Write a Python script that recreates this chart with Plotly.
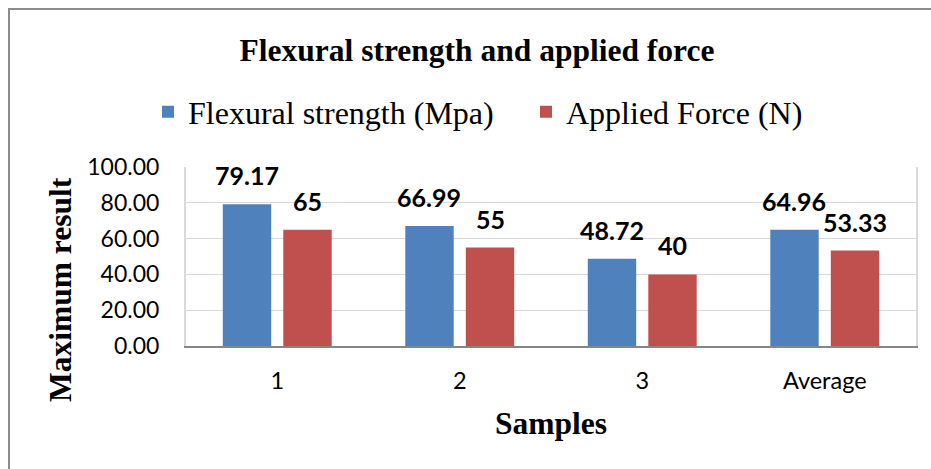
import plotly.graph_objects as go

# Chart data
samples = ["1", "2", "3", "Average"]
flexural_strength = [79.17, 66.99, 48.72, 64.96]
applied_force = [65, 55, 40, 53.33]
flexural_labels = ["79.17", "66.99", "48.72", "64.96"]
force_labels = ["65", "55", "40", "53.33"]
y_ticks = [0, 20, 40, 60, 80, 100]

BLUE = "#4F81BD"
RED = "#C0504D"
W, H = 931, 469
ML, MR, MT, MB = 186, 15, 167, 123
PW, PH = W - ML - MR, H - MT - MB

def px_x(p):
    return (p - ML) / PW

def px_y(p):
    return (H - MB - p) / PH

fig = go.Figure()
fig.add_trace(go.Bar(name="Flexural strength (Mpa)", x=samples, y=flexural_strength,
                     marker=dict(color=BLUE, line=dict(width=0))))
fig.add_trace(go.Bar(name="Applied Force (N)", x=samples, y=applied_force,
                     marker=dict(color=RED, line=dict(width=0))))

# value labels floating above each bar
label_font = dict(family="Lato", size=25, color="#000000")
off = 0.166
annotations = []
for i, (v, t) in enumerate(zip(flexural_strength, flexural_labels)):
    annotations.append(dict(x=i - off, y=v, xref="x", yref="y", text="<b>%s</b>" % t,
                            showarrow=False, yanchor="bottom", yshift=12, font=label_font))
for i, (v, t) in enumerate(zip(applied_force, force_labels)):
    annotations.append(dict(x=i + off, y=v, xref="x", yref="y", text="<b>%s</b>" % t,
                            showarrow=False, yanchor="bottom", yshift=12, font=label_font))

serif_bold = dict(family="Liberation Serif", size=31.5, color="#000000")
annotations.append(dict(x=px_x(60), y=px_y(289), xref="paper", yref="paper",
                        text="<b>Maximum result</b>", textangle=-90, showarrow=False,
                        xanchor="center", yanchor="middle", font=serif_bold))
annotations.append(dict(x=px_x(551), y=px_y(423), xref="paper", yref="paper",
                        text="<b>Samples</b>", showarrow=False,
                        xanchor="center", yanchor="middle", font=serif_bold))

# outer chart frame
shapes = [dict(type="rect", xref="paper", yref="paper",
               x0=px_x(9), y0=px_y(9), x1=px_x(960), y1=px_y(500),
               line=dict(color="#8C8C8C", width=2), fillcolor="rgba(0,0,0,0)", layer="below")]

fig.update_layout(
    width=W, height=H,
    margin=dict(l=ML, r=MR, t=MT, b=MB),
    paper_bgcolor="white", plot_bgcolor="white",
    title=dict(text="<b>Flexural strength and applied force</b>", x=477 / W, xanchor="center",
               y=1 - 50 / H, yanchor="middle", yref="container", font=serif_bold),
    barmode="group", bargap=0.337, bargroupgap=0.2,
    legend=dict(orientation="h", x=px_x(148), xanchor="left", y=px_y(112), yanchor="middle",
                font=dict(family="Liberation Serif", size=32, color="#000000"),
                bgcolor="rgba(0,0,0,0)", itemwidth=30, entrywidth=333, traceorder="normal"),
    annotations=annotations,
    shapes=shapes,
    showlegend=True,
)
fig.update_xaxes(type="category", showline=True, linecolor="#868686", linewidth=2,
                 showgrid=False, ticks="", ticklabelstandoff=13,
                 tickfont=dict(family="Lato", size=23.5, color="#000000"))
fig.update_yaxes(range=[0, 100], tickvals=y_ticks, tickformat=".2f",
                 showgrid=True, gridcolor="#D9D9D9", gridwidth=1,
                 showline=True, mirror=True, linecolor="#D9D9D9", linewidth=2,
                 zeroline=False, ticks="", ticklabelstandoff=20,
                 tickfont=dict(family="Lato", size=23, color="#000000"))

fig.write_html("out.html")
